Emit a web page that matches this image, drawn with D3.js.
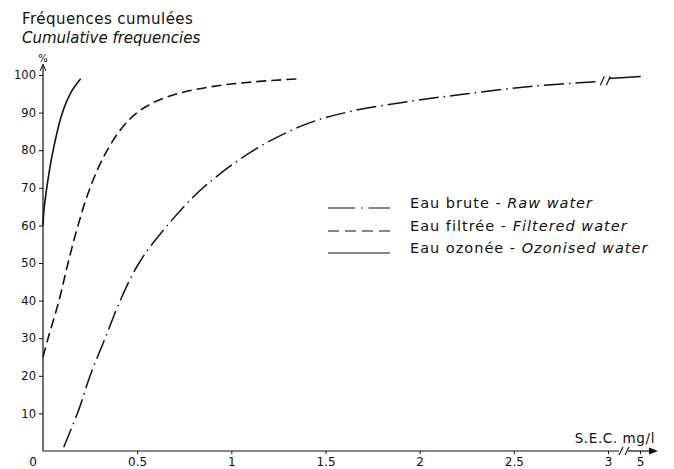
<!DOCTYPE html>
<html><head><meta charset="utf-8">
<script src="https://cdn.jsdelivr.net/npm/d3@7/dist/d3.min.js"></script>
<style>
html,body{margin:0;padding:0;background:#fff;}
svg text{font-family:"DejaVu Sans",sans-serif;fill:#111;}
</style></head>
<body>
<svg id="chart" width="674" height="469"></svg>
<script>
// ---- data ----
const xTickValues = [0.5, 1, 1.5, 2, 2.5, 3, 5];
const xTickLabels = ["0.5", "1", "1.5", "2", "2.5", "3", "5"];
const yTickValues = [10, 20, 30, 40, 50, 60, 70, 80, 90, 100];

// Eau ozonée - Ozonised water  [S.E.C. mg/l, cumulative %]
const ozonisedWater = [[0,60],[0.005,64],[0.02,70],[0.05,79],[0.1,89.5],[0.15,95.5],[0.2,99]];
// Eau filtrée - Filtered water
const filteredWater = [[0,25],[0.027,30],[0.085,40],[0.133,50],[0.186,60],[0.25,70],[0.33,79],[0.42,86],[0.5,90],[0.6,93],[0.75,95.5],[0.95,97.3],[1.15,98.3],[1.36,99]];
// Eau brute - Raw water (before and after the axis break)
const rawWater = [[0.11,1],[0.19,11],[0.25,20],[0.33,30],[0.41,40],[0.51,50],[0.66,60],[0.85,70],[1.12,80],[1.4,87],[1.65,90.5],[1.95,93],[2.25,95],[2.6,97],[2.94,98.2]];
const rawWaterTail = [[3.05,99.1],[5.05,99.6]];

const legendItems = [
  {fr:"Eau brute - ", en:"Raw water", dash:"27,6,1.5,6,40"},
  {fr:"Eau filtrée - ", en:"Filtered water", dash:"11,6"},
  {fr:"Eau ozonée - ", en:"Ozonised water", dash:null}
];

// ---- scales ----
const svg = d3.select("#chart");
const x = d3.scaleLinear().domain([0, 3, 5]).range([43, 608, 640]);
const y = d3.scaleLinear().domain([0, 100]).range([451, 75]);
const ink = "#111";

// ---- titles ----
svg.append("text").attr("x", 22).attr("y", 24).attr("font-size", 15).attr("letter-spacing", 0.45).text("Fréquences cumulées");
svg.append("text").attr("x", 22).attr("y", 43).attr("font-size", 15).attr("font-style", "italic").text("Cumulative frequencies");

// ---- y axis ----
const yAxis = svg.append("g").attr("transform", "translate(43,0)")
  .call(d3.axisLeft(y).tickValues(yTickValues).tickSize(4).tickPadding(3).tickFormat(d3.format("d")));
yAxis.select(".domain").remove();
yAxis.selectAll("line").attr("stroke", ink);
yAxis.selectAll("text").attr("font-size", 11.5).attr("font-family", "DejaVu Sans").attr("fill", ink);
svg.append("line").attr("x1", 43).attr("x2", 43).attr("y1", y(0)).attr("y2", 66).attr("stroke", ink).attr("stroke-width", 1.2);
svg.append("path").attr("d", "M40,71 L43,64 L46,71").attr("fill", "none").attr("stroke", ink).attr("stroke-width", 1);
svg.append("text").attr("x", 43).attr("y", 62).attr("text-anchor", "middle").attr("font-size", 10).text("%");

// ---- x axis ----
const xAxis = svg.append("g").attr("transform", `translate(0,${y(0)})`)
  .call(d3.axisBottom(x).tickValues(xTickValues).tickSize(3).tickPadding(3).tickFormat((d, i) => xTickLabels[i]));
xAxis.select(".domain").remove();
xAxis.selectAll("line").attr("stroke", ink);
xAxis.selectAll("text").attr("font-size", 12).attr("font-family", "DejaVu Sans").attr("fill", ink);
svg.append("text").attr("x", 33).attr("y", 466).attr("text-anchor", "middle").attr("font-size", 12).text("0");
const y0 = y(0);
svg.append("line").attr("x1", 43).attr("x2", 619).attr("y1", y0).attr("y2", y0).attr("stroke", ink).attr("stroke-width", 1.2);
svg.append("line").attr("x1", 628).attr("x2", 656).attr("y1", y0).attr("y2", y0).attr("stroke", ink).attr("stroke-width", 1.2);
svg.append("path").attr("d", `M619,${y0+4} L623,${y0-4} M625,${y0+4} L629,${y0-4}`).attr("stroke", ink).attr("stroke-width", 1.1).attr("fill", "none");
svg.append("path").attr("d", `M649,${y0-3.5} L658,${y0} L649,${y0+3.5} Z`).attr("fill", ink);
svg.append("text").attr("x", 655).attr("y", 443).attr("text-anchor", "end").attr("font-size", 13.5).attr("letter-spacing", 0.6).text("S.E.C. mg/l");

// ---- curves ----
const line = d3.line().x(d => x(d[0])).y(d => y(d[1])).curve(d3.curveCatmullRom.alpha(0.5));
svg.append("path").datum(ozonisedWater).attr("d", line).attr("fill", "none").attr("stroke", ink).attr("stroke-width", 1.6);
svg.append("path").datum(filteredWater).attr("d", line).attr("fill", "none").attr("stroke", ink).attr("stroke-width", 1.6).attr("stroke-dasharray", "10,5");
svg.append("path").datum(rawWater).attr("d", line).attr("fill", "none").attr("stroke", ink).attr("stroke-width", 1.5).attr("stroke-dasharray", "20,5,1.5,5");
svg.append("path").datum(rawWaterTail).attr("d", line).attr("fill", "none").attr("stroke", ink).attr("stroke-width", 1.5);
// break marks on the raw curve
const bx1 = x(2.97), bx2 = x(3.02), by = y(98.6);
svg.append("path").attr("d", `M${bx1-2},${by+5} L${bx1+2},${by-4} M${bx2-2},${by+5} L${bx2+2},${by-4}`).attr("stroke", ink).attr("stroke-width", 1.2).attr("fill", "none");

// ---- legend ----
const lg = svg.append("g");
legendItems.forEach((d, i) => {
  const ly = [208, 231, 253][i];
  lg.append("line").attr("x1", 328).attr("x2", 390).attr("y1", ly).attr("y2", ly)
    .attr("stroke", ink).attr("stroke-width", 1.2).attr("stroke-dasharray", d.dash);
  const t = lg.append("text").attr("x", 410).attr("y", ly).attr("font-size", 14.5).attr("letter-spacing", 1);
  t.append("tspan").text(d.fr);
  t.append("tspan").attr("font-style", "italic").text(d.en);
});
</script>
</body></html>
